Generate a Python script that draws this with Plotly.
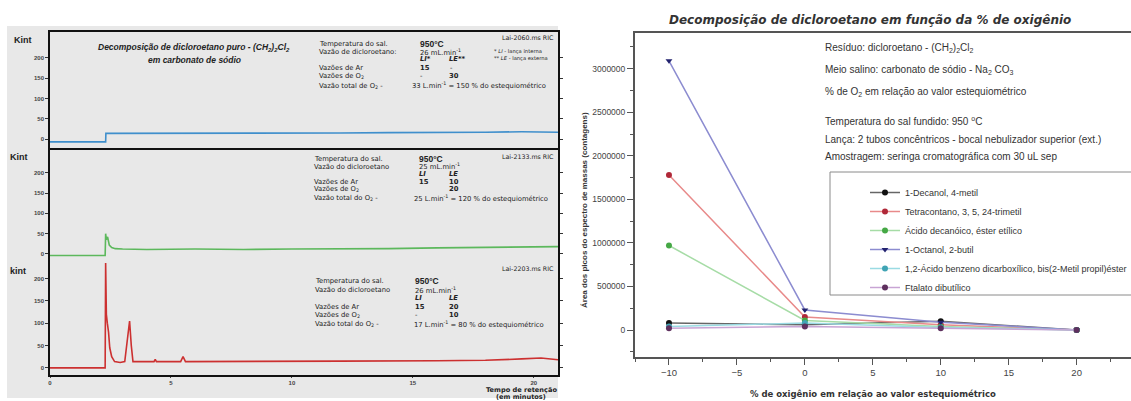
import plotly.graph_objects as go

W, H = 1131, 401
FONT = "Liberation Sans, Arial, sans-serif"
WIDE = "DejaVu Sans, Verdana, sans-serif"

# ---------------- Left: chromatograms (retention time [min], intensity [kint])
t_blue = [0, 2.3, 2.31, 4, 6, 8, 10, 12, 14, 16, 18, 19.5, 20.5, 21]
i_blue = [-7, -7, 14, 14, 14, 15, 15, 15, 16, 16, 17, 18, 17, 17]

t_green = [0, 2.28, 2.3, 2.33, 2.38, 2.45, 2.55, 2.7, 3.0, 4.0, 6, 8, 10, 12, 14, 16, 18, 20, 21]
i_green = [-4, -4, 50, 35, 42, 22, 16, 13, 12, 11, 12, 11, 12, 12, 13, 15, 16, 18, 18]

t_red = [0, 2.28, 2.3, 2.33, 2.37, 2.42, 2.47, 2.55, 2.67, 2.9, 3.09, 3.17, 3.29, 3.36, 3.43,
         3.6, 4.3, 4.35, 4.4, 5.4, 5.5, 5.6, 8, 12, 16, 18, 19.5, 20.3, 21]
i_red = [0, 0, 235, 120, 100, 80, 45, 25, 14, 12, 14, 49, 105, 50, 14,
         14, 14, 19, 14, 14, 25, 14, 15, 15, 16, 17, 20, 22, 18]

# ---------------- Right: peak areas vs % O2
o2_pct = [-10, 0, 10, 20]
compounds = [
    "1-Decanol, 4-metil",
    "Tetracontano, 3, 5, 24-trimetil",
    "Ácido decanóico, éster etílico",
    "1-Octanol, 2-butil",
    "1,2-Ácido benzeno dicarboxílico, bis(2-Metil propil)éster",
    "Ftalato dibutílico",
]
area_decanol = [80000, 60000, 100000, 0]
area_tetracontano = [1780000, 150000, 60000, 0]
area_decanoico = [970000, 110000, 40000, 0]
area_octanol = [3090000, 230000, 90000, 0]
area_benzeno = [40000, 80000, 30000, 0]
area_ftalato = [20000, 40000, 20000, 0]
areas = [area_decanol, area_tetracontano, area_decanoico, area_octanol, area_benzeno, area_ftalato]
line_colors = ["#666666", "#e88a8a", "#a6dca6", "#8c8cd0", "#9adbe3", "#c8a4d4"]
marker_colors = ["#111111", "#b02838", "#45a845", "#22226e", "#40a4b4", "#5e305e"]
symbols = ["circle", "circle", "circle", "triangle-down", "circle", "circle"]


def px(x):
    return x / W


def py(y):
    return 1 - y / H


fig = go.Figure()

fig.add_trace(go.Scatter(x=t_blue, y=i_blue, mode="lines", line=dict(color="#3f8fcc", width=1.6),
                         xaxis="x", yaxis="y", showlegend=False, hoverinfo="skip"))
fig.add_trace(go.Scatter(x=t_green, y=i_green, mode="lines", line=dict(color="#5cb85c", width=1.6),
                         xaxis="x2", yaxis="y2", showlegend=False, hoverinfo="skip"))
fig.add_trace(go.Scatter(x=t_red, y=i_red, mode="lines", line=dict(color="#cc3030", width=1.6),
                         xaxis="x3", yaxis="y3", showlegend=False, hoverinfo="skip"))

for name, vals, lc, mc, sym in zip(compounds, areas, line_colors, marker_colors, symbols):
    fig.add_trace(go.Scatter(x=o2_pct, y=vals, mode="lines+markers", name=name,
                             line=dict(color=lc, width=1.5),
                             marker=dict(color=mc, size=6, symbol=sym),
                             xaxis="x4", yaxis="y4"))

xl = [px(50), px(558)]
left_y_common = dict(showline=True, linecolor="#111", linewidth=1.5, mirror="ticks",
                     ticks="outside", ticklen=3, tickcolor="#333",
                     tickvals=[0, 50, 100, 150, 200], showgrid=False, zeroline=False,
                     tickfont=dict(size=6, color="#444", family=FONT, weight="bold"))
left_x_common = dict(range=[0, 21], showgrid=False, zeroline=False)

layout = dict(
    width=W, height=H,
    margin=dict(l=0, r=0, t=0, b=0, autoexpand=False),
    paper_bgcolor="white", plot_bgcolor="rgba(0,0,0,0)",
    font=dict(family=FONT, color="#222"),
    xaxis=dict(domain=xl, anchor="y", showline=True, mirror=True, linecolor="#111", linewidth=2,
               showticklabels=False, ticks="", **left_x_common),
    yaxis=dict(domain=[py(148), py(32)], anchor="x", range=[-22, 264], **left_y_common),
    xaxis2=dict(domain=xl, anchor="y2", showline=False, showticklabels=False, ticks="",
                **left_x_common),
    yaxis2=dict(domain=[py(258), py(148)], anchor="x2", range=[-10, 261], **left_y_common),
    xaxis3=dict(domain=xl, anchor="y3", showline=True, linecolor="#111", linewidth=2,
                ticks="outside", ticklen=1, tickvals=[0, 5, 10, 15, 20],
                tickfont=dict(size=6, color="#444", family=FONT, weight="bold"),
                **left_x_common),
    yaxis3=dict(domain=[py(375), py(258)], anchor="x3", range=[-16, 246], **left_y_common),
    xaxis4=dict(domain=[px(635), 1.0], anchor="y4", range=[-12.5, 24],
                showline=True, mirror=True, linecolor="#555", linewidth=2,
                ticks="outside", ticklen=6, tickcolor="#555",
                tickvals=[-10, -5, 0, 5, 10, 15, 20],
                minor=dict(dtick=2.5, ticks="outside", ticklen=3, tickcolor="#555"),
                showgrid=False, zeroline=False,
                tickfont=dict(size=9.5, color="#444", family=FONT)),
    yaxis4=dict(domain=[py(357), py(33)], anchor="x4", range=[-310000, 3410000],
                showline=True, mirror=True, linecolor="#555", linewidth=2,
                ticks="outside", ticklen=6, tickcolor="#555",
                dtick=500000, tick0=0, tickformat="d",
                minor=dict(dtick=250000, ticks="outside", ticklen=3, tickcolor="#555"),
                showgrid=False, zeroline=False,
                tickfont=dict(size=8.5, color="#444", family=FONT)),
    legend=dict(x=px(832), y=py(178), xanchor="left", yanchor="top",
                bgcolor="rgba(0,0,0,0)", borderwidth=0, indentation=33,
                font=dict(size=9, color="#333", family=FONT)),
    showlegend=True,
)
fig.update_layout(**layout)

shapes = [
    dict(type="rect", xref="paper", yref="paper", x0=px(7), x1=px(558), y0=py(398), y1=py(26),
         fillcolor="#e8e8e8", line=dict(width=0), layer="below"),
    dict(type="rect", xref="paper", yref="paper", x0=px(830), x1=px(1135), y0=py(295), y1=py(172),
         fillcolor="white", line=dict(color="#8a8a8a", width=1), layer="below"),
]
fig.update_layout(shapes=shapes)

annots = []


def ann(x, y, text, size=7, bold=False, italic=False, anchor="left", color="#222", angle=0,
        family=WIDE):
    t = text
    if bold:
        t = "<b>" + t + "</b>"
    if italic:
        t = "<i>" + t + "</i>"
    annots.append(dict(x=px(x), y=py(y), xref="paper", yref="paper", text=t, showarrow=False,
                       xanchor=anchor, yanchor="middle", textangle=angle,
                       font=dict(size=size, color=color, family=family)))


LS = 6.8  # left panel body text size

# Panel 1
ann(12, 40, "Kint", 9, bold=True, family=FONT)
ann(194, 48, "Decomposição de dicloroetano puro - (CH<sub>2</sub>)<sub>2</sub>Cl<sub>2</sub>", 8.5, bold=True, italic=True, anchor="center", family=FONT)
ann(194, 60, "em carbonato de sódio", 8.5, bold=True, italic=True, anchor="center", family=FONT)
ann(556, 38, "Lai-2060.ms RIC", 6.3, anchor="right")
ann(492, 51, "* <i>LI</i> - lança interna", 5.2)
ann(492, 58, "** <i>LE</i> - lança externa", 5.2)
p1_labels = [(44, "Temperatura do sal."), (52, "Vazão de dicloroetano:"), (68, "Vazões de Ar"),
             (76, "Vazões de O<sub>2</sub>"), (86, "Vazão total de O<sub>2</sub> -")]
for y, s in p1_labels:
    ann(317, y, s, LS)
ann(418, 44, "950°C", 8.5, bold=True, family=FONT)
ann(418, 52, "26 mL.min<sup>-1</sup>", LS)
ann(418, 59, "<i>LI*</i>", LS, bold=True)
ann(447, 59, "<i>LE**</i>", LS, bold=True)
ann(418, 68, "15", LS, bold=True)
ann(448, 68, "-", LS)
ann(418, 76, "-", LS)
ann(447, 76, "30", LS, bold=True)
ann(410, 86, "33 L.min<sup>-1</sup> = 150 % do estequiométrico", LS)

# Panel 2
ann(8, 157, "Kint", 9, bold=True, family=FONT)
ann(556, 157, "Lai-2133.ms RIC", 6.3, anchor="right")
p2_labels = [(159, "Temperatura do sal."), (167, "Vazão do dicloroetano"), (182, "Vazões de Ar"),
             (189, "Vazões de O<sub>2</sub>"), (198, "Vazão total do O<sub>2</sub> -")]
for y, s in p2_labels:
    ann(312, y, s, LS)
ann(417, 159, "950°C", 8.5, bold=True, family=FONT)
ann(417, 167, "25 mL.min<sup>-1</sup>", LS)
ann(417, 174, "<i>LI</i>", LS, bold=True)
ann(447, 174, "<i>LE</i>", LS, bold=True)
ann(417, 182, "15", LS, bold=True)
ann(447, 182, "10", LS, bold=True)
ann(447, 189, "20", LS, bold=True)
ann(412, 198, "25 L.min<sup>-1</sup> = 120 % do estequiométrico", LS)

# Panel 3
ann(8, 271, "kint", 9, bold=True, family=FONT)
ann(556, 268, "Lai-2203.ms RIC", 6.3, anchor="right")
p3_labels = [(281, "Temperatura do sal."), (290, "Vazão do dicloroetano"), (307, "Vazões de Ar"),
             (315, "Vazões de O<sub>2</sub>"), (324, "Vazão total do O<sub>2</sub> -")]
for y, s in p3_labels:
    ann(313, y, s, LS)
ann(413, 281, "950°C", 8.5, bold=True, family=FONT)
ann(413, 290, "26 mL.min<sup>-1</sup>", LS)
ann(413, 298, "<i>LI</i>", LS, bold=True)
ann(447, 298, "<i>LE</i>", LS, bold=True)
ann(413, 307, "15", LS, bold=True)
ann(447, 307, "20", LS, bold=True)
ann(413, 315, "-", LS)
ann(447, 315, "10", LS, bold=True)
ann(412, 324, "17 L.min<sup>-1</sup> = 80 % do estequiométrico", LS)
ann(521, 390, "Tempo de retenção", 6.6, bold=True, anchor="center")
ann(521, 397, "(em minutos)", 6.6, bold=True, anchor="center")

# Right chart texts
ann(870, 20, "Decomposição de dicloroetano em função da % de oxigênio", 12, bold=True, italic=True, anchor="center", color="#333")
ann(873, 394, "% de oxigênio em relação ao valor estequiométrico", 8.5, bold=True, anchor="center", color="#333")
ann(584, 210, "Área dos picos do espectro de massas (contagens)", 8, bold=True, anchor="center", color="#333", angle=-90, family=FONT)
right_notes = [
    (48, "Resíduo: dicloroetano - (CH<sub>2</sub>)<sub>2</sub>Cl<sub>2</sub>"),
    (70, "Meio salino: carbonato de sódio - Na<sub>2</sub> CO<sub>3</sub>"),
    (92, "% de O<sub>2</sub> em relação ao valor estequiométrico"),
    (121, "Temperatura do sal fundido: 950 <sup>o</sup>C"),
    (139, "Lança: 2 tubos concêntricos - bocal nebulizador superior (ext.)"),
    (157, "Amostragem: seringa cromatográfica com 30 uL sep"),
]
for y, s in right_notes:
    ann(823, y, s, 10, color="#333", family=FONT)

fig.update_layout(annotations=annots)
fig.write_html("out.html")
